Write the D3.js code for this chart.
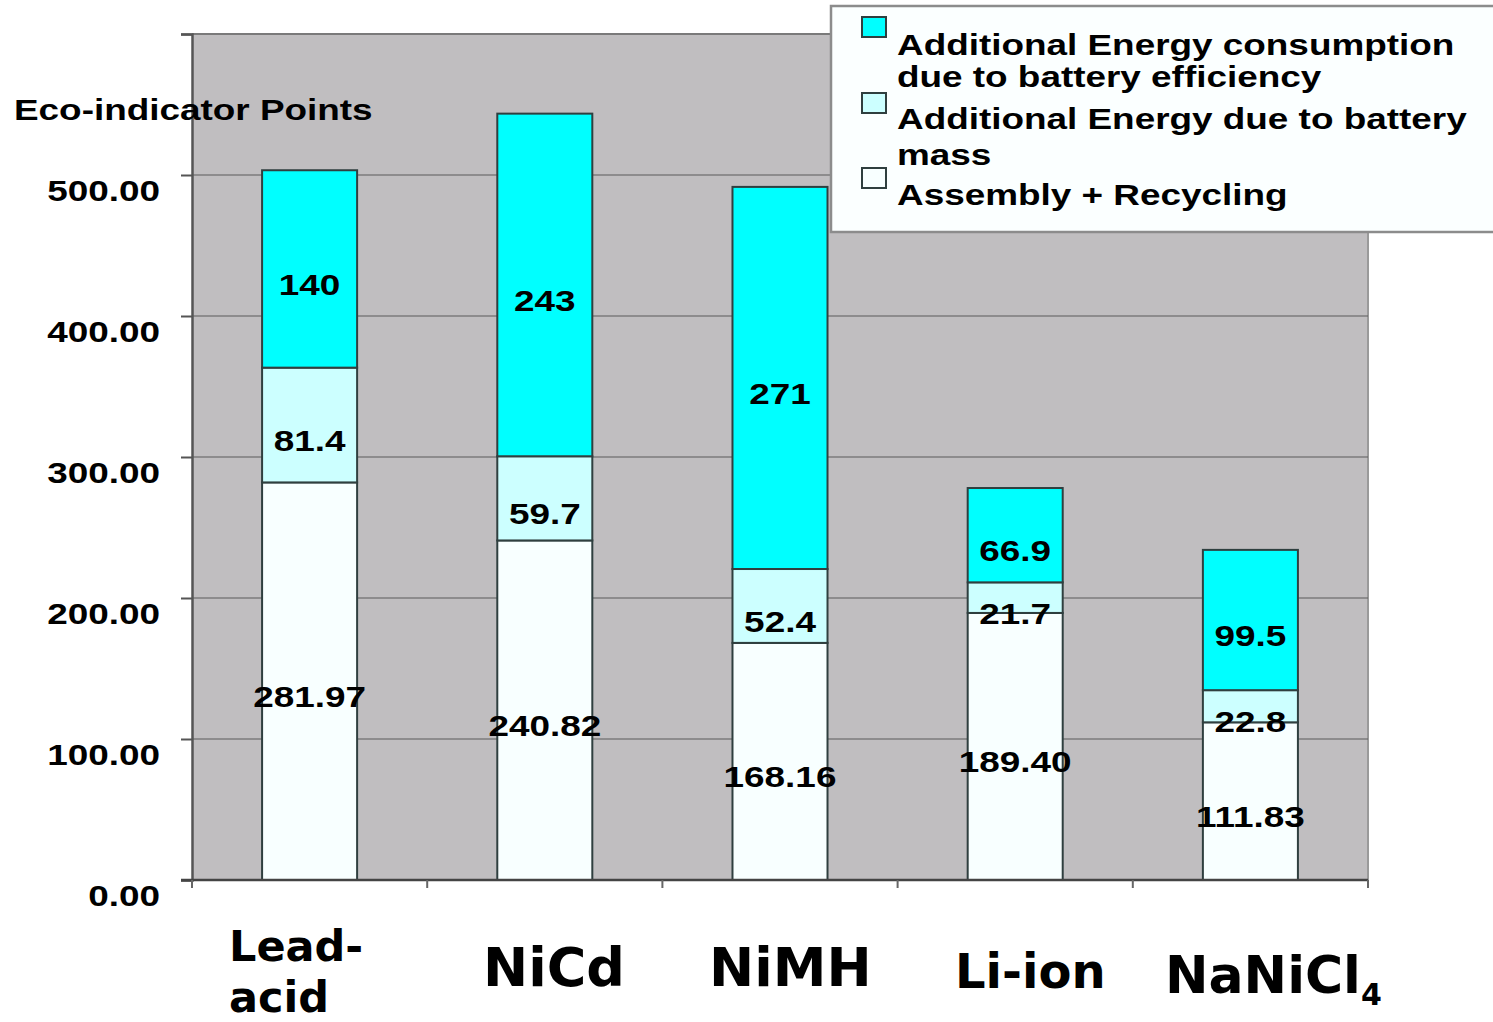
<!DOCTYPE html>
<html>
<head>
<meta charset="utf-8">
<script src="https://cdn.jsdelivr.net/npm/d3@7"></script>
<style>
  html, body { margin: 0; padding: 0; background: #fff; }
  svg { display: block; }
</style>
</head>
<body>
<svg id="chart" width="1493" height="1022"></svg>
<script>
// Battery technologies on the x axis
const categories = ["Lead-acid", "NiCd", "NiMH", "Li-ion", "NaNiCl4"];

// Stacked components (Eco-indicator points), bottom to top
const assemblyRecycling = [281.97, 240.82, 168.16, 189.40, 111.83];
const energyMass        = [81.4, 59.7, 52.4, 21.7, 22.8];
const energyEfficiency  = [140, 243, 271, 66.9, 99.5];

// Printed labels for each component
const assemblyLabels   = ["281.97", "240.82", "168.16", "189.40", "111.83"];
const massLabels       = ["81.4", "59.7", "52.4", "21.7", "22.8"];
const efficiencyLabels = ["140", "243", "271", "66.9", "99.5"];

const seriesNames = [
  ["Additional Energy consumption", "due to battery efficiency"],
  ["Additional Energy due to battery", "mass"],
  ["Assembly + Recycling"]
];

const yTicks = [0, 100, 200, 300, 400, 500, 600];
const yTickLabels = [0, 100, 200, 300, 400, 500];

const colors = { eff: "#00ffff", mass: "#ccffff", asm: "#f8ffff" };

const svg = d3.select("#chart");
const plot = { left: 192, right: 1368, top: 34, bottom: 880 };

const x = d3.scaleBand()
  .domain(categories)
  .range([plot.left, plot.right])
  .paddingInner(0.596)
  .paddingOuter(0.298);

const y = d3.scaleLinear().domain([0, 600]).range([plot.bottom, plot.top]);

const chartFont = "'Liberation Sans', Arial, sans-serif";
const stretch = 1.23;

// text drawn with the chart's horizontal stretch
function sText(g, str, px, py, anchor, size, sx) {
  return g.append("text")
    .attr("transform", `translate(${px},${py}) scale(${sx},1)`)
    .attr("text-anchor", anchor)
    .attr("font-family", chartFont)
    .attr("font-weight", "bold")
    .attr("font-size", size)
    .attr("fill", "#000")
    .text(str);
}

// plot area background
svg.append("rect")
  .attr("x", plot.left).attr("y", plot.top)
  .attr("width", plot.right - plot.left).attr("height", plot.bottom - plot.top)
  .attr("fill", "#c0bec0");

// right frame
svg.append("line").attr("x1", plot.right).attr("x2", plot.right)
  .attr("y1", plot.top).attr("y2", plot.bottom)
  .attr("stroke", "#9a9a9a").attr("stroke-width", 2);

// gridlines
svg.append("g").selectAll("line").data(yTicks).join("line")
  .attr("x1", plot.left).attr("x2", plot.right)
  .attr("y1", d => y(d)).attr("y2", d => y(d))
  .attr("stroke", d => d === 600 ? "#7a7a7a" : "#5a5a5a")
  .attr("stroke-width", d => d === 600 ? 2 : 1.2);

// y axis
const yAxis = svg.append("g")
  .attr("transform", `translate(${plot.left},0)`)
  .call(d3.axisLeft(y).tickValues(yTicks).tickSize(11).tickFormat(""));
yAxis.select(".domain").attr("stroke", "#555").attr("stroke-width", 2.5);
yAxis.selectAll(".tick line").attr("stroke", "#555").attr("stroke-width", 2);

const yLab = svg.append("g");
yTickLabels.forEach(v => {
  sText(yLab, d3.format(".2f")(v), 160, y(v) + 26, "end", 30, stretch);
});

// axis title
sText(svg, "Eco-indicator Points", 14, 120, "start", 30, stretch);

// stacked bars
const layers = [
  { vals: assemblyRecycling, base: categories.map(() => 0), fill: colors.asm, labels: assemblyLabels },
  { vals: energyMass, base: assemblyRecycling, fill: colors.mass, labels: massLabels },
  { vals: energyEfficiency, base: assemblyRecycling.map((v, i) => v + energyMass[i]), fill: colors.eff, labels: efficiencyLabels }
];

const barG = svg.append("g");
layers.forEach(layer => {
  barG.append("g").selectAll("rect").data(categories).join("rect")
    .attr("x", d => x(d))
    .attr("width", x.bandwidth())
    .attr("y", (d, i) => y(layer.base[i] + layer.vals[i]))
    .attr("height", (d, i) => y(layer.base[i]) - y(layer.base[i] + layer.vals[i]))
    .attr("fill", layer.fill)
    .attr("stroke", "#2f3f3f")
    .attr("stroke-width", 2);
});

// x axis
const xAxis = svg.append("g")
  .attr("transform", `translate(0,${plot.bottom})`);
xAxis.append("line").attr("x1", plot.left - 11).attr("x2", plot.right)
  .attr("y1", 0).attr("y2", 0).attr("stroke", "#444").attr("stroke-width", 2.5);
const bounds = d3.range(categories.length + 1).map(i => plot.left + i * x.step());
xAxis.selectAll("line.tk").data(bounds).join("line").attr("class", "tk")
  .attr("x1", d => d).attr("x2", d => d).attr("y1", 0).attr("y2", 8)
  .attr("stroke", "#666").attr("stroke-width", 2);

// value labels
const labG = svg.append("g");
layers.forEach(layer => {
  categories.forEach((c, i) => {
    const mid = (y(layer.base[i]) + y(layer.base[i] + layer.vals[i])) / 2;
    sText(labG, layer.labels[i], x(c) + x.bandwidth() / 2, mid + 26, "middle", 30, stretch);
  });
});

// category labels
const catFont = "'DejaVu Sans', sans-serif";
const catG = svg.append("g");
function catText(parts, px, py, size) {
  const t = catG.append("text")
    .attr("x", px).attr("y", py)
    .attr("font-family", catFont).attr("font-weight", "bold")
    .attr("font-size", size).attr("fill", "#000");
  parts.forEach(p => {
    const ts = t.append("tspan").text(p.t);
    if (p.sub) ts.attr("font-size", 30).attr("dy", 12);
    if (p.br) ts.attr("x", px).attr("dy", p.br);
  });
  return t;
}
catText([{ t: "Lead-" }, { t: "acid", br: 51 }], 229, 961, 43);
catText([{ t: categories[1] }], 483, 986, 54);
catText([{ t: categories[2] }], 709, 986, 54);
catText([{ t: categories[3] }], 955, 988, 48);
catText([{ t: "NaNiCl" }, { t: "4", sub: true }], 1165, 993, 52);

// legend
const leg = svg.append("g");
leg.append("rect")
  .attr("x", 831).attr("y", 6).attr("width", 700).attr("height", 226)
  .attr("fill", "#fbffff").attr("stroke", "#8c8c8c").attr("stroke-width", 2.5);
const swatches = [
  { fill: colors.eff, y: 17, lines: seriesNames[0], base: [55, 87] },
  { fill: colors.mass, y: 93, lines: seriesNames[1], base: [129, 165] },
  { fill: colors.asm, y: 168, lines: seriesNames[2], base: [205] }
];
swatches.forEach(s => {
  leg.append("rect").attr("x", 862).attr("y", s.y).attr("width", 24).attr("height", 20)
    .attr("fill", s.fill).attr("stroke", "#2f3f3f").attr("stroke-width", 2);
  s.lines.forEach((ln, j) => sText(leg, ln, 897, s.base[j], "start", 30, stretch));
});
</script>
</body>
</html>
